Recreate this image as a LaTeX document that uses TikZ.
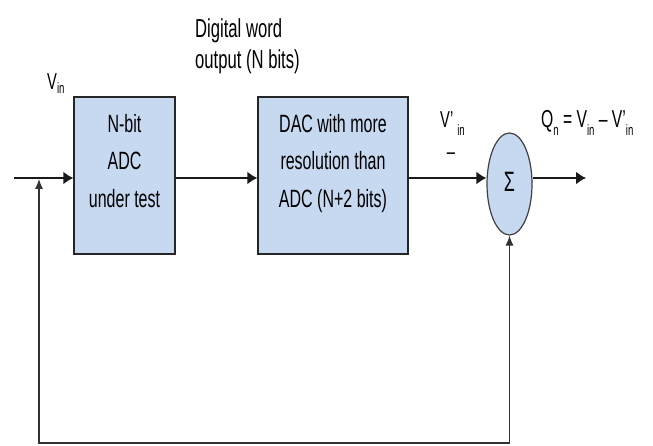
\documentclass[tikz,border=0pt]{standalone}
\usepackage{fontspec}
\setmainfont[FakeStretch=0.64]{Liberation Sans}
\usetikzlibrary{arrows.meta,shapes.geometric}
\definecolor{blkfill}{HTML}{C6D9F0}
\newcommand{\lsub}[2][-8pt]{\raisebox{#1}{\fontsize{15}{15}\selectfont #2}}
\begin{document}
\begin{tikzpicture}[x=1pt,y=-1pt,
  blk/.style={draw=black!85,line width=1.4pt,fill=blkfill,minimum width=101pt,minimum height=157pt,inner sep=0pt},
  btxt/.style={anchor=north,inner sep=0pt,align=center,font=\fontsize{25}{37.5}\selectfont},
  lbl/.style={inner sep=0pt,font=\fontsize{23}{23}\selectfont},
  sumnode/.style={ellipse,draw=black!75,line width=1.2pt,fill=blkfill,minimum width=45pt,minimum height=102pt,inner sep=0pt,font=\fontsize{28}{28}\selectfont},
  mainln/.style={line width=1.8pt,black!90},
  fbln/.style={line width=1.1pt,black!80},
  harr/.style={-{Latex[length=10pt,width=13pt]}},
  varr/.style={{Latex[length=10pt,width=8pt]}-{Latex[length=10pt,width=8pt]}}
]
\useasboundingbox (0,0) rectangle (653,446);
\fill[white] (0,0) rectangle (653,446);

% blocks
\node[blk] (adc) at (124.5,175.5) {};
\node[btxt] (adctxt) at (124.5,113.8) {N-bit\\ADC\\under test};
\node[blk, minimum width=150pt] (dac) at (333,175.5) {};
\node[btxt] (dactxt) at (333,113.8) {DAC with more\\resolution than\\ADC (N+2 bits)};
\node[sumnode] (sum) at (509.5,184) {\raisebox{4pt}{Σ}};

% labels
\node[inner sep=0pt, anchor=north west, align=left, font=\fontsize{26}{31}\selectfont] (dw) at (195,18.4) {Digital word\\output (N bits)};
\node[lbl, anchor=base west] (vin) at (47,90) {V\lsub[-4pt]{in}};
\node[lbl, anchor=base west] (vpin) at (440,128) {V'\hspace{4pt}\lsub{in}};
\node[lbl] (minus) at (451,156) {–};
\node[lbl, anchor=base west, font=\fontsize{24.5}{24.5}\selectfont] (qn) at (541,128) {Q\lsub{n} = V\lsub{in} – V'\lsub{in}};

% coordinates
\coordinate (in) at (14,178);
\coordinate (br) at (39,179);
\coordinate (bl) at (39,443);
\coordinate (br2) at (509.5,443);
\coordinate (out) at (586,178);

% connectors
\draw[mainln,harr] (in) -- (adc.west |- in);
\draw[mainln,harr] (adc.east |- in) -- (dac.west |- in);
\draw[mainln,harr] (dac.east |- in) -- (sum.west |- in);
\draw[mainln,harr] (sum.east |- in) -- (out);
\draw[fbln,varr] (br) -- (bl) -- (br2) -- (sum.south);
\end{tikzpicture}
\end{document}
